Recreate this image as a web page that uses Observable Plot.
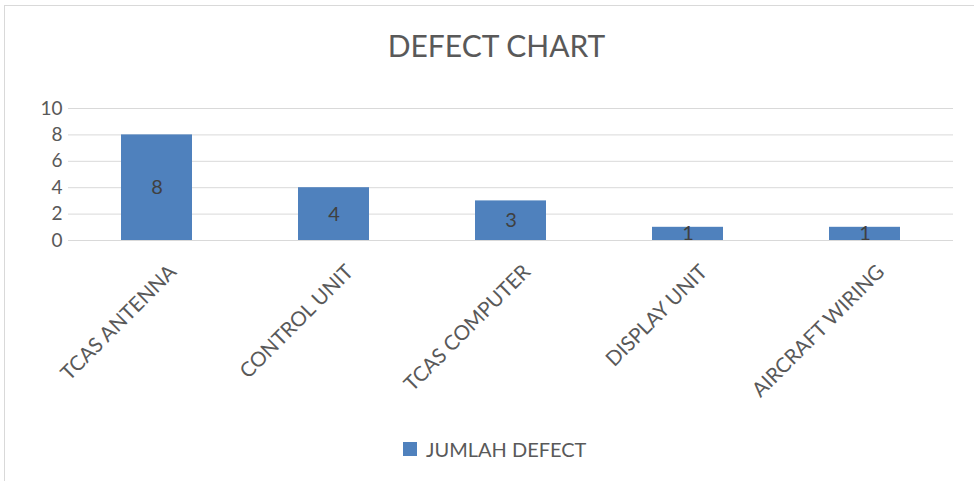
<!DOCTYPE html>
<html>
<head>
<meta charset="utf-8">
<script src="https://cdn.jsdelivr.net/npm/d3@7"></script>
<script src="https://cdn.jsdelivr.net/npm/@observablehq/plot@0.6"></script>
<style>
  html, body { margin: 0; padding: 0; background: #fff; width: 974px; height: 481px; overflow: hidden; }
  #frame { position: absolute; left: 4px; top: 5px; width: 1000px; height: 500px; border: 1px solid #d9d9d9; box-sizing: border-box; }
  #title { position: absolute; left: 0; top: 27px; width: 993px; text-align: center; font-family: Lato, sans-serif; font-weight: 400; font-size: 30px; line-height: 36px; color: #595959; }
  #chart { position: absolute; left: 0; top: 95px; }
  #legend { position: absolute; left: 403px; top: 437px; font-family: Lato, sans-serif; font-size: 20px; color: #595959; display: flex; align-items: center; }
  #legend .sw { width: 14px; height: 14px; background: #4f81bd; margin-right: 9px; }
</style>
</head>
<body>
<div id="frame"></div>
<div id="title">DEFECT CHART</div>
<div id="chart"></div>
<div id="legend"><span class="sw"></span><span id="legtext"></span></div>
<script>
const categories = ["TCAS ANTENNA", "CONTROL UNIT", "TCAS COMPUTER", "DISPLAY UNIT", "AIRCRAFT WIRING"];
const defects = [8, 4, 3, 1, 1];
const yTicks = [0, 2, 4, 6, 8, 10];
const seriesName = "JUMLAH DEFECT";
const barColor = "#4f81bd";

const data = categories.map((c, i) => ({category: c, value: defects[i]}));
document.getElementById("legtext").textContent = seriesName;

const plot = Plot.plot({
  width: 974,
  height: 315,
  marginLeft: 68,
  marginRight: 21,
  marginTop: 13,
  marginBottom: 170,
  style: {fontFamily: "Lato, sans-serif", color: "#595959", background: "transparent"},
  x: {domain: categories, paddingInner: 0.6, paddingOuter: 0.3, label: null},
  y: {domain: [0, 10], label: null},
  marks: [
    Plot.gridY(yTicks, {stroke: "#d9d9d9", strokeOpacity: 1, strokeWidth: 1}),
    Plot.barY(data, {x: "category", y: "value", fill: barColor}),
    Plot.text(data, {x: "category", y: d => d.value / 2, text: d => String(d.value), fill: "#404040", fontSize: 20}),
    Plot.axisY(yTicks, {tickSize: 0, tickPadding: 6, fontSize: 19, fill: "#595959", label: null}),
    Plot.axisX({tickSize: 0, tickPadding: 10, tickRotate: -45, fontSize: 20.5, fill: "#595959", label: null, dx: 16, dy: 18})
  ]
});
document.getElementById("chart").appendChild(plot);
</script>
</body>
</html>
